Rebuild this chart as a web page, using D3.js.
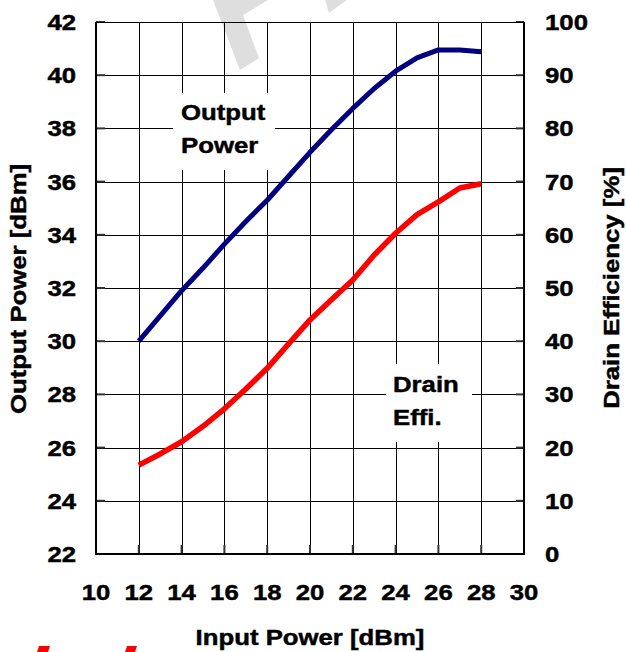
<!DOCTYPE html>
<html>
<head>
<meta charset="utf-8">
<script src="https://cdn.jsdelivr.net/npm/d3@7"></script>
<style>
  html, body { margin: 0; padding: 0; background: #fff; }
  text { font-family: "Liberation Sans", Arial, sans-serif; font-weight: bold; font-size: 22px; fill: #000; stroke: #000; stroke-width: 0.45px; }
</style>
</head>
<body>
<svg id="chart" width="626" height="652"></svg>
<script>
// ---- data ----
const inputPower = [12, 13, 14, 15, 16, 17, 18, 19, 20, 21, 22, 23, 24, 25, 26, 27, 28];
const outputPower = [30.0, 30.95, 31.9, 32.75, 33.65, 34.5, 35.3, 36.2, 37.1, 37.95, 38.75, 39.5, 40.15, 40.65, 40.95, 40.95, 40.88];
const drainEfficiency = [16.7, 18.8, 21.1, 24.0, 27.3, 31.0, 34.9, 39.5, 44.0, 47.8, 51.5, 56.2, 60.3, 63.8, 66.2, 68.8, 69.6];
const xTicks = [10, 12, 14, 16, 18, 20, 22, 24, 26, 28, 30];
const yLeftTicks = [22, 24, 26, 28, 30, 32, 34, 36, 38, 40, 42];
const yRightTicks = [0, 10, 20, 30, 40, 50, 60, 70, 80, 90, 100];
const xTitle = "Input Power [dBm]";
const yLeftTitle = "Output Power [dBm]";
const yRightTitle = "Drain Efficiency [%]";
const labelOutput = ["Output", "Power"];
const labelDrain = ["Drain", "Effi."];

// ---- layout ----
const L = 96, R = 524, T = 22, B = 554;
const STRETCH = 1.17;
const svg = d3.select("#chart");

const x = d3.scaleLinear().domain([10, 30]).range([L, R]);
const yL = d3.scaleLinear().domain([22, 42]).range([B, T]);
const yR = d3.scaleLinear().domain([0, 100]).range([B, T]);

function stretch(sel) {
  sel.each(function () {
    const w = this.getComputedTextLength();
    this.setAttribute("textLength", (w * STRETCH).toFixed(1));
    this.setAttribute("lengthAdjust", "spacingAndGlyphs");
  });
}

// watermark fragments (decoration)
svg.append("polygon").attr("points", "213,0 268,0 243,15 259,58 240,70").attr("fill", "#dedede");
svg.append("polygon").attr("points", "325,0 347,0 329,13").attr("fill", "#dedede");
svg.append("polygon").attr("points", "37,652 39,646 50,646 48,652").attr("fill", "#ff0000");
svg.append("polygon").attr("points", "125,652 127,646 137,646 135,652").attr("fill", "#ff0000");

// grid
const grid = svg.append("g");
grid.selectAll("line.v").data(xTicks.slice(1, -1)).join("line")
  .attr("x1", d => Math.round(x(d)) + 0.5).attr("x2", d => Math.round(x(d)) + 0.5)
  .attr("y1", T).attr("y2", B).attr("stroke", "#000").attr("stroke-width", 1);
grid.selectAll("line.h").data(yLeftTicks.slice(1, -1)).join("line")
  .attr("y1", d => Math.round(yL(d)) + 0.5).attr("y2", d => Math.round(yL(d)) + 0.5)
  .attr("x1", L).attr("x2", R).attr("stroke", "#000").attr("stroke-width", 1);

// label boxes
svg.append("rect").attr("x", 173).attr("y", 93).attr("width", 102).attr("height", 77).attr("fill", "#fff");
svg.append("rect").attr("x", 386).attr("y", 364).attr("width", 86).attr("height", 78).attr("fill", "#fff");

// ticks (inside)
const tk = svg.append("g").attr("stroke", "#333").attr("stroke-width", 2);
tk.selectAll("line.l").data(yLeftTicks).join("line")
  .attr("x1", L).attr("x2", L + 9).attr("y1", d => yL(d)).attr("y2", d => yL(d));
tk.selectAll("line.r").data(yRightTicks).join("line")
  .attr("x1", R - 8).attr("x2", R).attr("y1", d => yR(d)).attr("y2", d => yR(d));
tk.selectAll("line.b").data(xTicks).join("line")
  .attr("x1", d => x(d)).attr("x2", d => x(d)).attr("y1", B - 9).attr("y2", B);

// frame
svg.append("line").attr("x1", L).attr("x2", R).attr("y1", T + 0.5).attr("y2", T + 0.5).attr("stroke", "#000").attr("stroke-width", 1);
svg.append("line").attr("x1", L).attr("x2", L).attr("y1", T).attr("y2", B + 1).attr("stroke", "#000").attr("stroke-width", 2);
svg.append("line").attr("x1", R).attr("x2", R).attr("y1", T).attr("y2", B + 1).attr("stroke", "#000").attr("stroke-width", 2);
svg.append("line").attr("x1", L - 1).attr("x2", R + 1).attr("y1", B).attr("y2", B).attr("stroke", "#000").attr("stroke-width", 2);

// series
const lineOut = d3.line().x((d, i) => x(inputPower[i])).y(d => yL(d));
const lineEff = d3.line().x((d, i) => x(inputPower[i])).y(d => yR(d));
svg.append("path").datum(outputPower).attr("d", lineOut)
  .attr("fill", "none").attr("stroke", "#000080").attr("stroke-width", 5).attr("stroke-linejoin", "round");
svg.append("path").datum(drainEfficiency).attr("d", lineEff)
  .attr("fill", "none").attr("stroke", "#ff0000").attr("stroke-width", 5.5).attr("stroke-linejoin", "round");

// tick labels
const tl = svg.append("g");
tl.selectAll("text.l").data(yLeftTicks).join("text")
  .attr("x", 76).attr("y", d => yL(d)).attr("dy", "0.36em").attr("text-anchor", "end").text(d => d);
tl.selectAll("text.r").data(yRightTicks).join("text")
  .attr("x", 545).attr("y", d => yR(d)).attr("dy", "0.36em").attr("text-anchor", "start").text(d => d);
tl.selectAll("text.b").data(xTicks).join("text")
  .attr("x", d => x(d)).attr("y", 600).attr("text-anchor", "middle").text(d => d);

// axis titles
svg.append("text").attr("x", 310).attr("y", 645).attr("text-anchor", "middle").text(xTitle);
svg.append("text").attr("transform", "translate(26,289) rotate(-90)").attr("text-anchor", "middle").text(yLeftTitle);
svg.append("text").attr("transform", "translate(619,288) rotate(-90)").attr("text-anchor", "middle").text(yRightTitle);

// in-chart labels
svg.append("text").attr("x", 181).attr("y", 120).text(labelOutput[0]);
svg.append("text").attr("x", 181).attr("y", 153).text(labelOutput[1]);
svg.append("text").attr("x", 393).attr("y", 392).text(labelDrain[0]);
svg.append("text").attr("x", 393).attr("y", 425).text(labelDrain[1]);

svg.selectAll("text").call(stretch);
</script>
</body>
</html>
